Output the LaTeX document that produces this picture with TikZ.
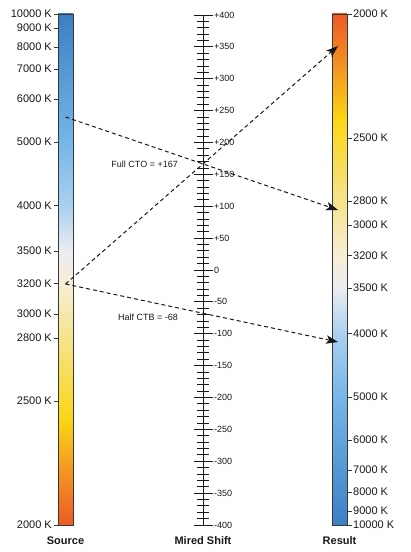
\documentclass[tikz,border=0pt]{standalone}
\usepackage{fontspec}
\setmainfont{Liberation Sans}
\usetikzlibrary{arrows.meta}
\definecolor{c1}{RGB}{58,128,196}
\definecolor{c2}{RGB}{118,182,232}
\definecolor{c3}{RGB}{168,208,240}
\definecolor{c4}{RGB}{236,236,242}
\definecolor{c5}{RGB}{247,238,214}
\definecolor{c6}{RGB}{246,227,140}
\definecolor{c7}{RGB}{250,214,20}
\definecolor{c8}{RGB}{244,150,35}
\definecolor{c9}{RGB}{237,90,36}
\definecolor{barline}{RGB}{55,55,55}
\definecolor{ink}{RGB}{25,25,25}
\tikzset{
  klabel/.style={font=\fontsize{11}{13}\selectfont, text=ink, inner sep=1pt},
  mlabel/.style={font=\fontsize{9}{11}\selectfont, text=ink, inner sep=1pt},
  clabel/.style={font=\fontsize{9}{11}\selectfont, text=ink, inner sep=1pt},
  title/.style={font=\bfseries\fontsize{11}{13}\selectfont, text=ink, inner sep=1pt},
  bartick/.style={draw=barline, line width=0.8pt},
  scaletick/.style={draw=ink, line width=0.9pt},
  barframe/.style={draw=barline, line width=0.9pt},
  dasharrow/.style={draw=ink, line width=1pt, dash pattern=on 4pt off 3pt,
     -{Stealth[length=12pt,width=8.5pt,inset=3pt]}}
}
\begin{document}
\begin{tikzpicture}[x=1pt,y=-1pt]
\useasboundingbox[fill=white] (0,0) rectangle (411,552);
% ---------- source bar ----------
\foreach \ya/\ca/\yb/\cb in {14/c1/142/c2,142/c2/205/c3,205/c3/251/c4,251/c4/283/c5,283/c5/338/c6,338/c6/420/c7,420/c7/470/c8,470/c8/525/c9}{
  \shade[top color=\ca, bottom color=\cb] (58,\ya-0.3) rectangle (73,\yb+0.3);
}
\node[barframe, minimum width=15pt, minimum height=511pt, inner sep=0pt] (srcbar) at (65.5,269.5) {};
% ---------- result bar ----------
\foreach \ya/\ca/\yb/\cb in {14/c9/69/c8,69/c8/119/c7,119/c7/201/c6,201/c6/256/c5,256/c5/288/c4,288/c4/334/c3,334/c3/397/c2,397/c2/525/c1}{
  \shade[top color=\ca, bottom color=\cb] (332,\ya-0.3) rectangle (347,\yb+0.3);
}
\node[barframe, minimum width=15pt, minimum height=511pt, inner sep=0pt] (resbar) at (339.5,269.5) {};
% ---------- kelvin ticks ----------
\foreach \k/\y in {10000/14,9000/28,8000/47,7000/69,6000/99,5000/142,4000/205.5,3500/251,3200/283.5,3000/314,2800/338,2500/401,2000/525}{
  \draw[bartick] (53.5,\y) -- (58,\y);
  \node[klabel, anchor=east] (sl\k) at (53,\y) {\k\ K};
  \draw[bartick] (347,539-\y) -- (351.5,539-\y);
  \node[klabel, anchor=west] (rl\k) at (352,539-\y) {\k\ K};
}
% ---------- mired scale ----------
\draw[scaletick] (203,15) -- (203,525);
\foreach \s in {-400,-390,...,400}{
  \draw[scaletick] (197,270-\s*0.6375) -- (209,270-\s*0.6375);
}
\foreach \s in {-400,-350,...,400}{
  \draw[scaletick] (193.5,270-\s*0.6375) -- (212.5,270-\s*0.6375);
  \node[mlabel, anchor=west] (m\s) at (213,270-\s*0.6375) {\ifnum\s>0 +\s\else\s\fi};
}
% ---------- titles ----------
\node[title] (tsrc) at (65.5,541) {Source};
\node[title] (tmid) at (203,541) {Mired Shift};
\node[title] (tres) at (339.5,541) {Result};
% ---------- shifts ----------
\coordinate (s5500) at (65.5,117);
\coordinate (s3200) at (65.5,284);
\coordinate (r2870) at (338,210);
\coordinate (r2090) at (338,46);
\coordinate (r4090) at (338,342);
\draw[dasharrow] (s5500) -- (r2870);
\draw[dasharrow] (s3200) -- (r2090);
\draw[dasharrow] (s3200) -- (r4090);
\node[clabel, anchor=east] (fullcto) at (179,164) {Full CTO = +167};
\node[clabel, anchor=east] (halfctb) at (179,317) {Half CTB = -68};
\end{tikzpicture}
\end{document}
